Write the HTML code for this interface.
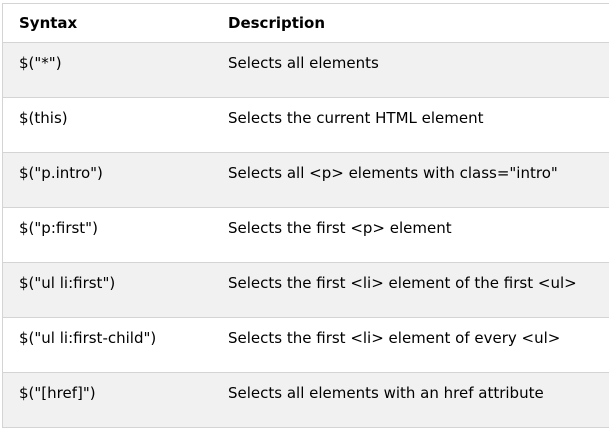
<!DOCTYPE html>
<html><head><style>
body{margin:0;width:609px;height:431px;background:#fff;overflow:hidden;font-family:"DejaVu Sans","Liberation Sans",sans-serif;font-size:15px;color:#000}
.t{position:absolute;left:2px;top:3px;width:620px;border-top:1px solid #d4d4d4;border-left:1px solid #d4d4d4}
.r{position:relative;height:54px;border-bottom:1px solid #d4d4d4}
.r.h{height:38px;font-weight:bold}
.g{background:#f1f1f1}
.r span{position:absolute;top:11px}
.r.h span{top:10px}
.a{left:16px}.b{left:225px}
</style></head><body>
<div class="t">
<div class="r h"><span class="a">Syntax</span><span class="b">Description</span></div>
<div class="r g"><span class="a">$("*")</span><span class="b">Selects all elements</span></div>
<div class="r"><span class="a">$(this)</span><span class="b">Selects the current HTML element</span></div>
<div class="r g"><span class="a">$("p.intro")</span><span class="b">Selects all &lt;p&gt; elements with class="intro"</span></div>
<div class="r"><span class="a">$("p:first")</span><span class="b">Selects the first &lt;p&gt; element</span></div>
<div class="r g"><span class="a">$("ul li:first")</span><span class="b">Selects the first &lt;li&gt; element of the first &lt;ul&gt;</span></div>
<div class="r"><span class="a">$("ul li:first-child")</span><span class="b">Selects the first &lt;li&gt; element of every &lt;ul&gt;</span></div>
<div class="r g"><span class="a">$("[href]")</span><span class="b">Selects all elements with an href attribute</span></div>
</div>
</body></html>
